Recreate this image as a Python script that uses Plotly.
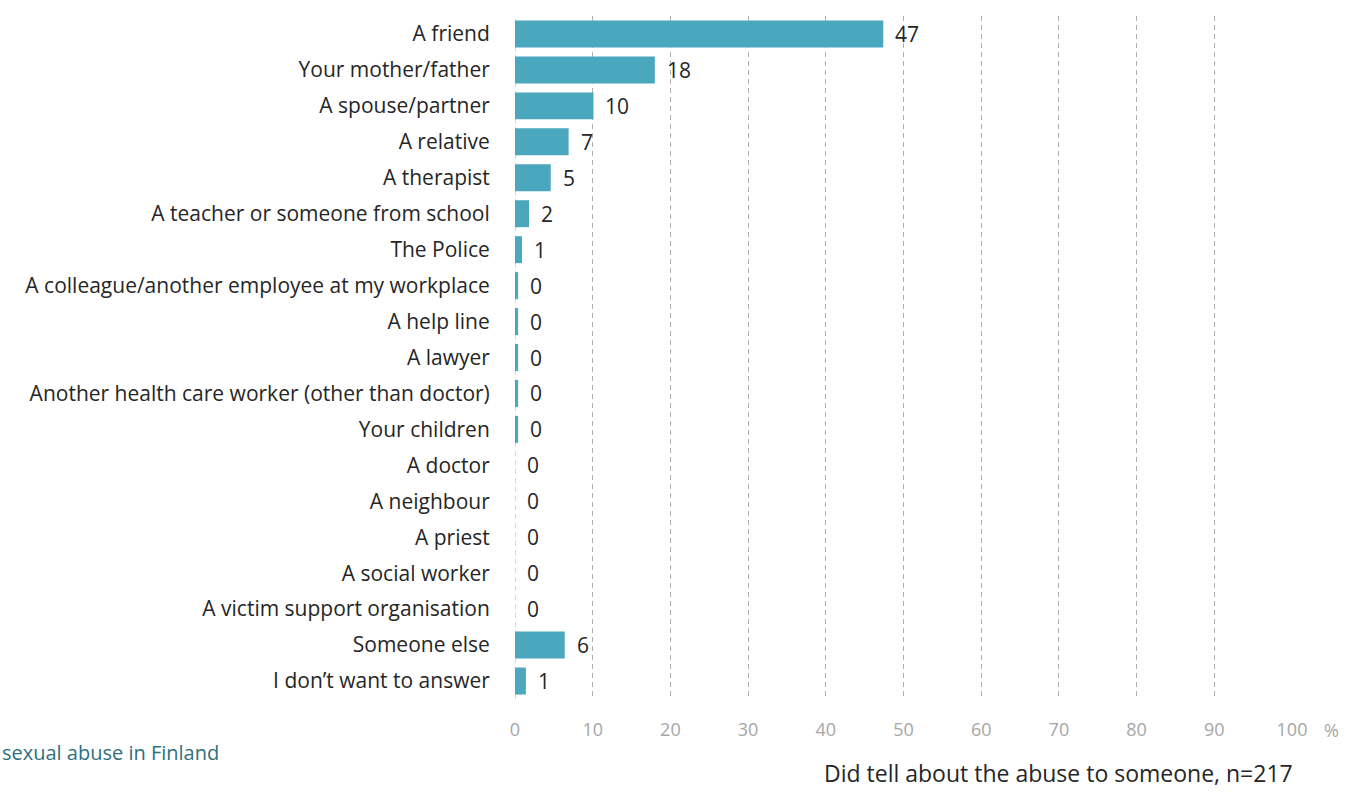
import plotly.graph_objects as go

categories = [
    "A friend",
    "Your mother/father",
    "A spouse/partner",
    "A relative",
    "A therapist",
    "A teacher or someone from school",
    "The Police",
    "A colleague/another employee at my workplace",
    "A help line",
    "A lawyer",
    "Another health care worker (other than doctor)",
    "Your children",
    "A doctor",
    "A neighbour",
    "A priest",
    "A social worker",
    "A victim support organisation",
    "Someone else",
    "I don\u2019t want to answer",
]
percentages = [47.4, 18.0, 10.1, 6.9, 4.6, 1.8, 0.9, 0.4, 0.4, 0.4, 0.4, 0.4,
               0.0, 0.0, 0.0, 0.0, 0.0, 6.4, 1.4]
x_ticks = [0, 10, 20, 30, 40, 50, 60, 70, 80, 90, 100]

FONT = "Open Sans"
BAR_COLOR = "#4BA7BD"
GRID_COLOR = "#b0b0b0"
GRID_DASH = "5px,4px"

fig = go.Figure()
fig.add_trace(go.Bar(
    y=categories,
    x=percentages,
    orientation="h",
    marker=dict(color=BAR_COLOR, line=dict(width=0)),
    hovertemplate="%{y}: %{x:.0f}<extra></extra>",
))

# value labels just to the right of each bar
for cat, val in zip(categories, percentages):
    fig.add_annotation(
        x=val, y=cat, xref="x", yref="y",
        text=f"{val:.0f}", showarrow=False,
        xanchor="left", xshift=10,
        font=dict(family=FONT, size=21, color="#262626"),
    )

# dashed baseline at 0, drawn beneath the bars like the other gridlines
fig.add_shape(
    type="line", x0=0, x1=0, xref="x", y0=0, y1=1, yref="paper",
    line=dict(color=GRID_COLOR, width=1, dash=GRID_DASH), layer="below",
)

# unit marker to the right of the last tick
fig.add_annotation(
    x=1.0, y=0, xref="paper", yref="paper", yanchor="top", xanchor="left",
    xshift=30, yshift=-17, text="%", showarrow=False,
    font=dict(family=FONT, size=18, color="#a6a6a6"),
)
# footer captions below the plot area
fig.add_annotation(
    x=-0.6628, y=-0.079, xref="paper", yref="paper",
    xanchor="left", yanchor="middle",
    text="sexual abuse in Finland", showarrow=False,
    font=dict(family=FONT, size=20, color="#2f6f7e"),
)
fig.add_annotation(
    x=1.0039, y=-0.1083, xref="paper", yref="paper",
    xanchor="right", yanchor="middle", showarrow=False,
    text="Did tell about the abuse to someone, n=217",
    font=dict(family=FONT, size=23, color="#262626"),
)

fig.update_layout(
    width=1353, height=793,
    margin=dict(l=515, r=61, t=16, b=94),
    paper_bgcolor="white", plot_bgcolor="white",
    bargap=0.25, showlegend=False,
    font=dict(family=FONT, size=21, color="#262626"),
    xaxis=dict(
        range=[0, 100], tickvals=x_ticks, showgrid=True,
        gridcolor=GRID_COLOR, griddash=GRID_DASH, gridwidth=1,
        zeroline=False, showline=False,
        tickfont=dict(family=FONT, size=18, color="#a6a6a6"),
        ticks="outside", ticklen=14, tickcolor="rgba(0,0,0,0)",
        fixedrange=True,
    ),
    yaxis=dict(
        autorange="reversed", showgrid=False, zeroline=False,
        showline=False, ticks="outside", ticklen=20,
        tickcolor="rgba(0,0,0,0)",
        tickfont=dict(family=FONT, size=21, color="#262626"),
        fixedrange=True,
    ),
)

fig.write_html("out.html")
